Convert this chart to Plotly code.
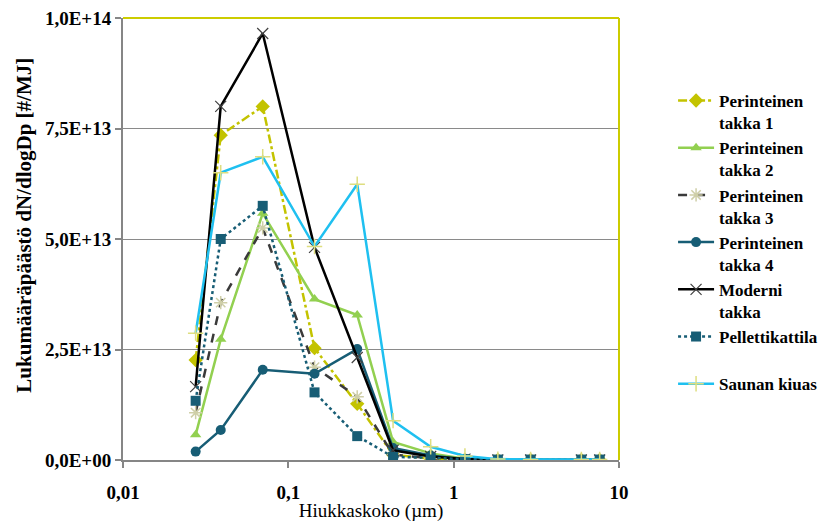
import plotly.graph_objects as go

# Particle size (µm)
sizes = [0.0275, 0.039, 0.07, 0.144, 0.261, 0.43, 0.726, 1.17, 1.85, 2.92, 5.92, 7.64]

# Emission values (dN/dlogDp, #/MJ)
takka1 = [2.26e13, 7.35e13, 8.0e13, 2.53e13, 1.27e13, 0.12e13, 0.03e13, 0.01e13, 0, 0, 0, 0]
takka2 = [0.57e13, 2.73e13, 5.58e13, 3.64e13, 3.28e13, 0.41e13, 0.15e13, 0.03e13, 0.01e13, 0, 0, 0]
takka3 = [1.07e13, 3.56e13, 5.25e13, 2.10e13, 1.43e13, 0.12e13, 0.04e13, 0.01e13, 0, 0, 0, 0]
takka4 = [0.19e13, 0.68e13, 2.04e13, 1.95e13, 2.51e13, 0.27e13, 0.10e13, 0.02e13, 0, 0, 0, 0]
moderni = [1.66e13, 8.0e13, 9.65e13, 4.81e13, 2.32e13, 0.22e13, 0.08e13, 0.02e13, 0, 0, 0, 0]
pelletti = [1.34e13, 5.0e13, 5.75e13, 1.53e13, 0.54e13, 0.07e13, 0.05e13, 0.02e13, 0.01e13, 0.01e13, 0.01e13, 0.01e13]
sauna = [2.87e13, 6.5e13, 6.86e13, 4.83e13, 6.24e13, 0.89e13, 0.30e13, 0.09e13, 0.02e13, 0.01e13, 0.01e13, 0.01e13]

y_tickvals = [0, 2.5e13, 5e13, 7.5e13, 1e14]
y_ticktext = ["0,0E+00", "2,5E+13", "5,0E+13", "7,5E+13", "1,0E+14"]
x_tickvals = [0.01, 0.1, 1, 10]
x_ticktext = ["0,01", "0,1", "1", "10"]

FONT = "Liberation Serif"

series = [
    ("Perinteinen<br>takka 1", takka1, dict(color="#c3c300", width=2.5, dash="dashdot"),
     dict(symbol="diamond", size=11, color="#c3c300")),
    ("Perinteinen<br>takka 2", takka2, dict(color="#92d050", width=2.5),
     dict(symbol="triangle-up", size=10, color="#92d050")),
    ("Perinteinen<br>takka 3", takka3, dict(color="#3a3a3a", width=2.5, dash="dash"),
     dict(symbol="asterisk-open", size=11, color="#cfcfa8", line=dict(width=1.5, color="#cfcfa8"))),
    ("Perinteinen<br>takka 4", takka4, dict(color="#175d75", width=2.5),
     dict(symbol="circle", size=10, color="#175d75")),
    ("Moderni<br>takka", moderni, dict(color="#000000", width=2.5),
     dict(symbol="x-thin-open", size=11, color="#404040", line=dict(width=1.2, color="#404040"))),
    ("Pellettikattila<br> ", pelletti, dict(color="#175d75", width=2.5, dash="dot"),
     dict(symbol="square", size=10, color="#175d75")),
    ("Saunan kiuas", sauna, dict(color="#1fc0f0", width=2.5),
     dict(symbol="cross-thin-open", size=11, color="#dede80", line=dict(width=1.5, color="#dede80"))),
]

fig = go.Figure()
for name, vals, line, marker in series:
    fig.add_trace(go.Scatter(x=sizes, y=vals, name=name, mode="lines+markers",
                             line=line, marker=marker))

fig.update_layout(
    width=839, height=522,
    margin=dict(l=123, r=220, t=18, b=62),
    paper_bgcolor="white", plot_bgcolor="white",
    font=dict(family=FONT, size=19, color="black"),
    showlegend=True,
    legend=dict(x=1.109, y=0.853, xanchor="left", yanchor="top",
                font=dict(family=FONT, size=17, color="black", weight="bold"),
                valign="top", itemwidth=36, tracegroupgap=0,
                bgcolor="rgba(0,0,0,0)"),
    xaxis=dict(type="log", range=[-2, 1], tickvals=x_tickvals, ticktext=x_ticktext,
               showgrid=False, showline=True, linecolor="#868686", linewidth=2,
               ticks="outside", ticklen=6, tickcolor="#868686", tickwidth=1.5,
               ticklabelstandoff=8,
               tickfont=dict(family=FONT, size=19, color="black", weight="bold"),
               title=dict(text="Hiukkaskoko (µm)", font=dict(family=FONT, size=19), standoff=0),
               zeroline=False, automargin=False),
    yaxis=dict(range=[0, 1e14], tickvals=y_tickvals, ticktext=y_ticktext,
               showgrid=True, gridcolor="#8a8a8a", gridwidth=1.2,
               showline=True, linecolor="#868686", linewidth=2,
               ticks="outside", ticklen=6, tickcolor="#868686", tickwidth=1.5,
               ticklabeloverflow="allow",
               tickfont=dict(family=FONT, size=19, color="black", weight="bold"),
               zeroline=False, automargin=False),
    annotations=[
        dict(text="Lukumääräpäästö dN/dlogDp [#/MJ]", textangle=-90,
             xref="paper", yref="paper", x=-0.2, y=0.532,
             xanchor="center", yanchor="middle", showarrow=False,
             font=dict(family=FONT, size=21, weight="bold", color="black")),
    ],
    shapes=[
        dict(type="line", xref="paper", yref="paper", x0=0, x1=1, y0=1, y1=1,
             line=dict(color="#cccc00", width=2)),
        dict(type="line", xref="paper", yref="paper", x0=1, x1=1, y0=0, y1=1,
             line=dict(color="#cccc00", width=2)),
    ],
)

fig.write_html("out.html", config={"displayModeBar": False},
               post_script="document.body.style.margin='0px';")
